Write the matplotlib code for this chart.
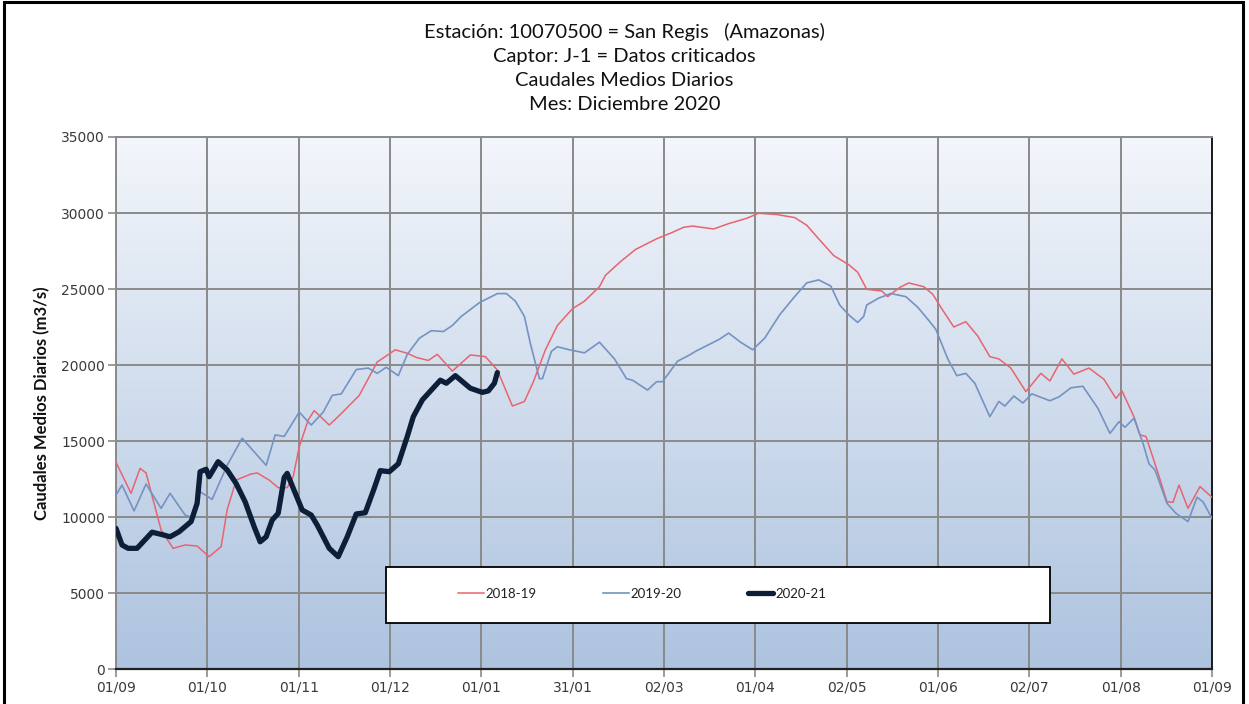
import matplotlib

matplotlib.use("Agg")
import matplotlib.pyplot as plt
import numpy as np
from matplotlib.colors import LinearSegmentedColormap
from matplotlib.patches import Rectangle

# day index counted from 01/09
tick_labels = ["01/09", "01/10", "01/11", "01/12", "01/01", "31/01", "02/03",
               "01/04", "02/05", "01/06", "02/07", "01/08", "01/09"]

days_1819 = [0, 5, 8, 10, 15, 19, 23, 27, 31, 35, 37, 40, 45, 47, 51, 54, 57, 59, 61, 64,
             66, 71, 75, 81, 87, 93, 97, 100, 104, 107, 112, 118, 123, 127, 132, 136, 139,
             143, 147, 152, 156, 161, 163, 168, 173, 180, 185, 189, 192, 199, 204, 210, 214,
             220, 226, 230, 234, 239, 244, 247, 250, 255, 257, 261, 264, 269, 272, 275, 279,
             283, 287, 291, 294, 298, 303, 308, 311, 315, 319, 324, 329, 333, 335, 339, 341,
             343, 347, 350, 352, 354, 357, 361, 365]
flow_1819 = [13600, 11560, 13200, 12900, 9150, 7940, 8160, 8090, 7390, 8050, 10460, 12430,
             12830, 12900, 12430, 11930, 11930, 12650, 14600, 16380, 17000, 16050, 16800,
             18000, 20200, 21000, 20770, 20500, 20300, 20700, 19600, 20660, 20550, 19670,
             17300, 17600, 18900, 21000, 22600, 23700, 24200, 25150, 25900, 26800, 27600,
             28300, 28700, 29060, 29140, 28950, 29300, 29650, 29980, 29900, 29700, 29200,
             28300, 27200, 26600, 26100, 24980, 24870, 24500, 25100, 25400, 25150, 24650,
             23700, 22500, 22850, 21900, 20550, 20400, 19800, 18250, 19450, 18950, 20400,
             19400, 19800, 19060, 17800, 18300, 16600, 15400, 15300, 12900, 11000, 10970,
             12100, 10570, 12000, 11300]

days_1920 = [0, 2, 6, 10, 15, 18, 23, 25, 28, 32, 37, 42, 50, 53, 56, 61, 65, 69, 72, 75,
             80, 84, 87, 90, 94, 97, 101, 105, 109, 112, 115, 121, 127, 130, 133, 136, 138,
             141, 142, 145, 147, 151, 156, 161, 166, 170, 172, 177, 180, 182, 187, 191, 193,
             199, 201, 204, 208, 212, 216, 221, 226, 230, 234, 238, 241, 244, 247, 249, 250,
             254, 258, 263, 267, 271, 273, 277, 280, 283, 286, 291, 294, 296, 299, 302, 305,
             311, 314, 318, 322, 327, 331, 334, 336, 339, 342, 344, 346, 350, 353, 357, 360,
             362, 365]
flow_1920 = [11450, 12100, 10400, 12170, 10570, 11560, 10130, 10000, 11660, 11160, 13400,
             15180, 13400, 15400, 15300, 16900, 16050, 16900, 18000, 18100, 19700, 19800,
             19450, 19850, 19300, 20700, 21760, 22260, 22200, 22600, 23200, 24100, 24700,
             24700, 24200, 23200, 21400, 19100, 19100, 20900, 21200, 21000, 20800, 21500,
             20400, 19100, 19000, 18350, 18900, 18900, 20250, 20660, 20900, 21500, 21700,
             22100, 21500, 21000, 21760, 23300, 24500, 25400, 25600, 25200, 23950, 23300,
             22800, 23200, 23950, 24400, 24700, 24500, 23800, 22850, 22350, 20400, 19300,
             19450, 18800, 16600, 17600, 17300, 17960, 17500, 18100, 17650, 17900, 18500,
             18600, 17150, 15500, 16270, 15900, 16500, 14850, 13500, 13100, 10900, 10240,
             9700, 11300, 11000, 9900]

days_2021 = [0, 2, 4, 7, 12, 15, 18, 21, 25, 27, 28, 30, 31, 34, 37, 40, 43, 46, 48, 50,
             52, 54, 56, 57, 59, 62, 65, 67, 71, 74, 77, 80, 83, 86, 88, 91, 94, 97, 99,
             102, 105, 108, 110, 113, 118, 122, 124, 126, 127]
flow_2021 = [9250, 8160, 7940, 7940, 9000, 8860, 8700, 9030, 9700, 10900, 12980, 13140,
             12650, 13640, 13100, 12200, 11000, 9360, 8370, 8700, 9800, 10240, 12600, 12870,
             11900, 10460, 10130, 9470, 7940, 7390, 8700, 10200, 10280, 11900, 13050, 12980,
             13500, 15300, 16600, 17700, 18350, 19000, 18800, 19300, 18470, 18200, 18300,
             18800, 19500]

titles = ["Estación: 10070500 = San Regis   (Amazonas)",
          "Captor: J-1 = Datos criticados",
          "Caudales Medios Diarios",
          "Mes: Diciembre 2020"]

fig = plt.figure(figsize=(12.49, 7.04), dpi=100)
ax = fig.add_axes([0.0929, 0.0497, 0.8775, 0.7557])

# background gradient of the plot area
grad = LinearSegmentedColormap.from_list("bg", ["#adc3df", "#f3f6fb"])
ax.imshow(np.linspace(0, 1, 256).reshape(-1, 1), cmap=grad, origin="lower",
          extent=[0, 1, 0, 1], transform=ax.transAxes, aspect="auto", zorder=0)

ax.plot(days_1819, flow_1819, color="#e8646e", lw=1.1, label="2018-19", zorder=3)
ax.plot(days_1920, flow_1920, color="#7592c2", lw=1.2, label="2019-20", zorder=3)
ax.plot(days_2021, flow_2021, color="#0d1e38", lw=3.8, label="2020-21", zorder=4,
        solid_capstyle="round", solid_joinstyle="round")

ax.set_xlim(0, 365)
ax.set_ylim(0, 35000)
ax.set_xticks(np.linspace(0, 365, 13))
ax.set_xticklabels(tick_labels)
ax.set_yticks(np.arange(0, 35001, 5000))
ax.grid(True, color="#8a8a8a", lw=1.4, zorder=1)
for lab in ax.get_xticklabels() + ax.get_yticklabels():
    lab.set_fontfamily("DejaVu Sans")
    lab.set_fontsize(10)
    lab.set_color("#3a3a3a")
ax.tick_params(axis="both", length=6, width=1.2, color="#8a8a8a", pad=2)
ax.spines["top"].set_color("#8a8a8a")
ax.spines["top"].set_linewidth(1.4)
ax.spines["left"].set_color("#8a8a8a")
ax.spines["left"].set_linewidth(1.4)
ax.spines["right"].set_color("#1a1a1a")
ax.spines["right"].set_linewidth(1.4)
ax.spines["bottom"].set_color("#202020")
ax.spines["bottom"].set_linewidth(1.6)

ax.set_ylabel("Caudales Medios Diarios (m3/s)", fontsize=12, fontfamily="Lato",
              fontweight="bold", labelpad=8, color="#111111")

# legend box
box = Rectangle((0.246, 0.0865), 0.606, 0.105, transform=ax.transAxes, facecolor="white",
                edgecolor="black", lw=1.3, zorder=5)
ax.add_patch(box)
leg = ax.legend(loc="center", bbox_to_anchor=(0.48, 0.141), ncol=3, frameon=False,
                fontsize=9.5, handlelength=1.95, handletextpad=0.15, columnspacing=5.0,
                borderaxespad=0)
leg.set_zorder(6)
for t in leg.get_texts():
    t.set_fontfamily("Lato")
    t.set_color("#202020")

for i, t in enumerate(titles):
    fig.text(0.5, 0.954 - i * 0.0342, t, ha="center", va="center", fontsize=14.5,
             fontfamily="Lato", color="#111111")

fig.patches.append(Rectangle((0.003, -0.02), 0.992, 1.017, transform=fig.transFigure,
                             fill=False, edgecolor="black", lw=2.2))

fig.savefig("out.png", dpi=100)
